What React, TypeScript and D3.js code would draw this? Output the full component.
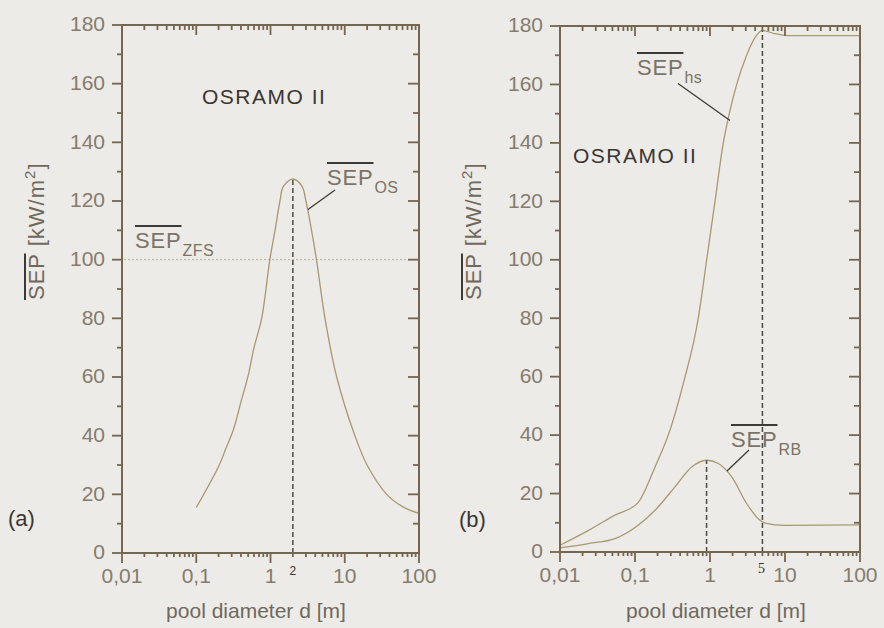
import React, { useEffect, useRef } from "react";
import * as d3 from "d3";

// axis ticks and labels
const xTickValues = [0.01, 0.1, 1, 10, 100];
const xTickLabels = ["0,01", "0,1", "1", "10", "100"];
const yTickValues = [0, 20, 40, 60, 80, 100, 120, 140, 160, 180];
const yMinorValues = [10, 30, 50, 70, 90, 110, 130, 150, 170];

// panel (a): SEP of the OSRAMO II pool fire vs pool diameter
const osDiameter = [0.1, 0.2, 0.25, 0.316, 0.4, 0.5, 0.6, 0.76, 0.98, 1.15, 1.34, 1.49, 2, 2.66, 3.0, 3.57, 4.16, 5.42, 7.79, 13.7, 20, 36.7, 60, 100];
const osSep = [15.5, 29.5, 35.5, 42, 51.5, 60.5, 70, 80, 100, 110, 120, 125, 127.5, 125, 120, 110, 100, 80, 60, 40, 30, 20, 15.8, 13.5];
const zfsLevel = 100;
const osPeakD = 2;

// panel (b): hot spots and radiation bands
const hsDiameter = [0.01, 0.024, 0.054, 0.109, 0.185, 0.293, 0.441, 0.698, 0.903, 1.166, 1.504, 1.808, 2.27, 3.08, 3.98, 5, 7, 11, 100];
const hsSep = [2.3, 7.4, 12.6, 16.8, 29.1, 41.7, 57.7, 80, 100, 120, 140, 150, 160, 170, 176, 178.5, 177.5, 176.7, 176.7];
const rbDiameter = [0.01, 0.024, 0.054, 0.109, 0.185, 0.341, 0.57, 0.9, 1.29, 1.95, 3.08, 4.41, 5.4, 10, 100];
const rbSep = [1.4, 2.9, 4.6, 9.1, 14.3, 22.3, 29.1, 31.4, 30.3, 25.7, 16.6, 11.4, 9.9, 9.1, 9.3];
const hsPeakD = 5;
const rbPeakD = 0.9;

const FONT = "'Liberation Sans', Arial, Helvetica, sans-serif";
const AXIS = "#75664f";
const TICKTEXT = "#857c6d";
const CURVE = "#a69a70";
const DASH = "#4e4a45";
const BAR = "#3c3a36";

type Sel = d3.Selection<SVGGElement, unknown, null, undefined>;

function drawFrame(g: Sel, x: d3.ScaleLogarithmic<number, number>, y: d3.ScaleLinear<number, number>) {
    const [x0, x1] = x.range();
    const [yb, yt] = y.range();
    const xMinor = x.ticks().filter(t => xTickValues.indexOf(t) < 0);

    // bottom ticks point down (outward), top ticks point down (inward)
    // left ticks point outward, right ticks inward
    const ticks: [number, number, number, number][] = [];
    xTickValues.forEach(t => { ticks.push([x(t), yb, x(t), yb + 10]); ticks.push([x(t), yt, x(t), yt + 10]); });
    xMinor.forEach(t => { ticks.push([x(t), yb, x(t), yb + 4]); ticks.push([x(t), yt, x(t), yt + 5]); });
    yTickValues.forEach(t => {
        ticks.push([x0 - 10, y(t), x0, y(t)]);
        if (t > 0 && t < 180) ticks.push([x1 - 11, y(t), x1, y(t)]);
    });
    yMinorValues.forEach(t => { ticks.push([x0 - 5, y(t), x0, y(t)]); ticks.push([x1 - 6, y(t), x1, y(t)]); });

    g.append("rect").attr("x", x0).attr("y", yt).attr("width", x1 - x0).attr("height", yb - yt)
        .attr("fill", "none").attr("stroke", AXIS).attr("stroke-width", 2);

    g.append("g").selectAll("line").data(ticks).enter().append("line")
        .attr("x1", d => d[0]).attr("y1", d => d[1]).attr("x2", d => d[2]).attr("y2", d => d[3])
        .attr("stroke", AXIS).attr("stroke-width", 1.8);

    g.selectAll("text.ylab").data(yTickValues).enter().append("text")
        .attr("x", x0 - 17).attr("y", d => y(d)).attr("dy", "0.3em")
        .attr("text-anchor", "end").attr("font-family", FONT).attr("font-size", 21).attr("fill", TICKTEXT)
        .text(d => String(d));
    g.selectAll("text.xlab").data(xTickValues).enter().append("text")
        .attr("x", d => x(d)).attr("y", yb + 30)
        .attr("text-anchor", "middle").attr("font-family", FONT).attr("font-size", 21).attr("fill", TICKTEXT)
        .text((d, i) => xTickLabels[i]);
}

// overlined "SEP" with subscript
function barLabel(g: Sel, px: number, py: number, sub: string) {
    const t = g.append("text").attr("x", px).attr("y", py).attr("font-family", FONT).attr("font-size", 22)
        .attr("letter-spacing", 0.8).attr("fill", "#7a7366").text("SEP");
    const w = (t.node() as SVGTextElement).getComputedTextLength();
    g.append("line").attr("x1", px).attr("x2", px + w).attr("y1", py - 22).attr("y2", py - 22)
        .attr("stroke", BAR).attr("stroke-width", 2);
    g.append("text").attr("x", px + w + 1).attr("y", py + 8).attr("font-family", FONT).attr("font-size", 16)
        .attr("letter-spacing", 0.5).attr("fill", "#7a7366").text(sub);
}

function yTitle(g: Sel, bx: number, by: number) {
    const gg = g.append("g").attr("transform", `translate(${bx},${by}) rotate(-90)`);
    const t = gg.append("text").attr("font-family", FONT).attr("font-size", 22).attr("fill", "#6f685c")
        .attr("letter-spacing", 1);
    t.append("tspan").text("SEP [kW/m");
    t.append("tspan").attr("font-size", 15).attr("dy", -9).text("2");
    t.append("tspan").attr("dy", 9).text("]");
    const w = (t.node() as SVGTextElement).getSubStringLength(0, 3);
    gg.append("line").attr("x1", 0).attr("x2", w).attr("y1", -19).attr("y2", -19)
        .attr("stroke", BAR).attr("stroke-width", 2);
}

function xTitle(g: Sel, cx: number, by: number) {
    g.append("text").attr("x", cx).attr("y", by).attr("text-anchor", "middle").attr("font-family", FONT)
        .attr("font-size", 21).attr("fill", "#6f685c").text("pool diameter d [m]");
}

const App = () => {
    const ref = useRef<SVGSVGElement>(null);

    useEffect(() => {
        const svg = d3.select(ref.current);
        svg.selectAll("*").remove();
        svg.append("rect").attr("width", 884).attr("height", 628).attr("fill", "#ecebe7");

        // ---------- panel (a)
        const ga = svg.append("g") as unknown as Sel;
        const xa = d3.scaleLog().domain([0.01, 100]).range([122, 419]);
        const ya = d3.scaleLinear().domain([0, 180]).range([553, 25]);

        ga.append("line").attr("x1", 112).attr("x2", xa(100)).attr("y1", ya(zfsLevel)).attr("y2", ya(zfsLevel))
            .attr("stroke", "#b8ab7e").attr("stroke-width", 0.9).attr("stroke-dasharray", "2,2");

        const lineA = d3.line<number>().x((d, i) => xa(osDiameter[i])).y(d => ya(d)).curve(d3.curveCatmullRom.alpha(0.5));
        ga.append("path").attr("d", lineA(osSep)).attr("fill", "none").attr("stroke", CURVE).attr("stroke-width", 1.3);

        const osPeak = osSep[osDiameter.indexOf(osPeakD)];
        ga.append("line").attr("x1", xa(osPeakD)).attr("x2", xa(osPeakD)).attr("y1", ya(0)).attr("y2", ya(osPeak))
            .attr("stroke", DASH).attr("stroke-width", 1.5).attr("stroke-dasharray", "5,3");

        drawFrame(ga, xa, ya);

        ga.append("text").attr("x", xa(osPeakD)).attr("y", 575).attr("text-anchor", "middle")
            .attr("font-family", FONT).attr("font-size", 12).attr("fill", "#333").text("2");
        ga.append("text").attr("x", 202).attr("y", 104).attr("font-family", FONT).attr("font-size", 21)
            .attr("letter-spacing", 1.5).attr("fill", "#3b3631").text("OSRAMO II");
        barLabel(ga, 327, 185, "OS");
        ga.append("line").attr("x1", 335).attr("y1", 190).attr("x2", 308).attr("y2", 209.5)
            .attr("stroke", "#3f3b36").attr("stroke-width", 1.3);
        barLabel(ga, 135, 248, "ZFS");
        ga.append("text").attr("x", 8).attr("y", 526).attr("font-family", FONT).attr("font-size", 22)
            .attr("fill", "#3b3631").text("(a)");
        yTitle(ga, 44, 300);
        xTitle(ga, 256, 618);

        // ---------- panel (b)
        const gb = svg.append("g") as unknown as Sel;
        const xb = d3.scaleLog().domain([0.01, 100]).range([560, 860]);
        const yb = d3.scaleLinear().domain([0, 180]).range([552, 26]);

        const lineHs = d3.line<number>().x((d, i) => xb(hsDiameter[i])).y(d => yb(d)).curve(d3.curveMonotoneX);
        const lineRb = d3.line<number>().x((d, i) => xb(rbDiameter[i])).y(d => yb(d)).curve(d3.curveMonotoneX);
        gb.append("path").attr("d", lineHs(hsSep)).attr("fill", "none").attr("stroke", CURVE).attr("stroke-width", 1.3);
        gb.append("path").attr("d", lineRb(rbSep)).attr("fill", "none").attr("stroke", CURVE).attr("stroke-width", 1.3);

        const hsPeak = hsSep[hsDiameter.indexOf(hsPeakD)];
        const rbPeak = rbSep[rbDiameter.indexOf(rbPeakD)];
        gb.append("line").attr("x1", xb(hsPeakD)).attr("x2", xb(hsPeakD)).attr("y1", yb(0)).attr("y2", yb(hsPeak))
            .attr("stroke", DASH).attr("stroke-width", 1.5).attr("stroke-dasharray", "5,3");
        gb.append("line").attr("x1", xb(rbPeakD)).attr("x2", xb(rbPeakD)).attr("y1", yb(0)).attr("y2", yb(rbPeak))
            .attr("stroke", DASH).attr("stroke-width", 1.5).attr("stroke-dasharray", "5,3");

        drawFrame(gb, xb, yb);

        gb.append("text").attr("x", xb(hsPeakD) - 1).attr("y", 573).attr("text-anchor", "middle")
            .attr("font-family", "'Liberation Serif', 'Times New Roman', serif").attr("font-size", 14)
            .attr("fill", "#333").text("5");
        gb.append("text").attr("x", 573).attr("y", 163).attr("font-family", FONT).attr("font-size", 21)
            .attr("letter-spacing", 1.5).attr("fill", "#3b3631").text("OSRAMO II");
        barLabel(gb, 637, 75, "hs");
        gb.append("line").attr("x1", 678).attr("y1", 83.5).attr("x2", 730).attr("y2", 120.5)
            .attr("stroke", "#3f3b36").attr("stroke-width", 1.3);
        barLabel(gb, 731, 447, "RB");
        gb.append("line").attr("x1", 749).attr("y1", 450).attr("x2", 727).attr("y2", 471)
            .attr("stroke", "#3f3b36").attr("stroke-width", 1.3);
        gb.append("text").attr("x", 459).attr("y", 527).attr("font-family", FONT).attr("font-size", 22)
            .attr("fill", "#3b3631").text("(b)");
        yTitle(gb, 481, 300);
        xTitle(gb, 716, 618);
    }, []);

    return <svg ref={ref} width={884} height={628} style={{ position: "absolute", left: 0, top: 0 }} />;
};

export default App;
